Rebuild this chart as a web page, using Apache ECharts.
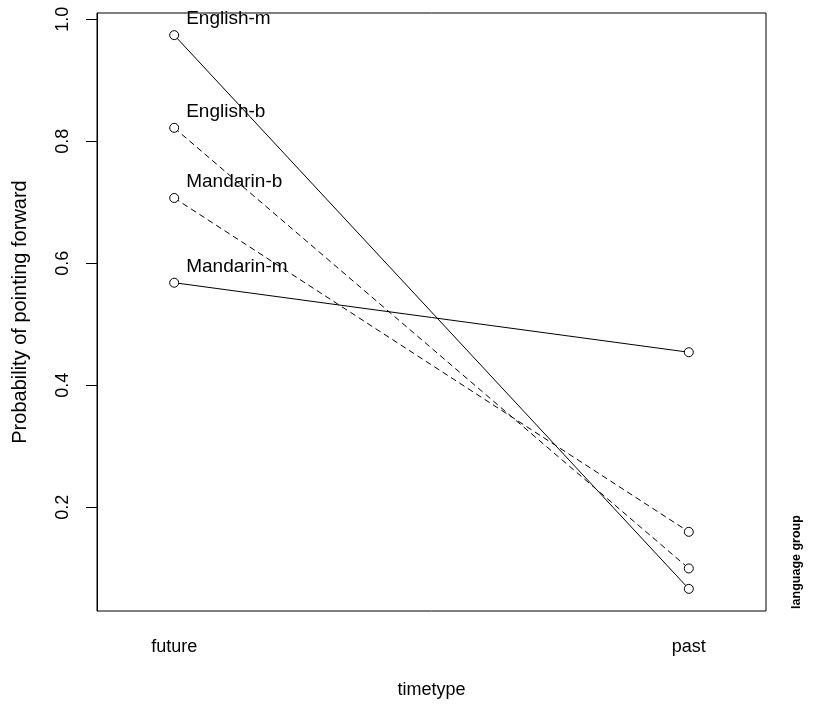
<!DOCTYPE html>
<html>
<head>
<meta charset="utf-8">
<script src="https://cdn.jsdelivr.net/npm/echarts@6/dist/echarts.min.js"></script>
<style>html,body{margin:0;padding:0;background:#fff}#c{width:814px;height:705px}</style>
</head>
<body>
<div id="c"></div>
<script>
var timeCategories = ['future', 'past'];
var groups = ['English-m', 'English-b', 'Mandarin-b', 'Mandarin-m'];
var futureValues = [0.974, 0.822, 0.707, 0.568];
var pastValues = [0.066, 0.0995, 0.1595, 0.454];
var yTickValues = [0.2, 0.4, 0.6, 0.8, 1.0];

var FONT = '"Liberation Sans", Arial, Helvetica, sans-serif';
var all = futureValues.concat(pastValues);
var lo = Math.min.apply(null, all), hi = Math.max.apply(null, all);
var ext = (hi - lo) * 0.04;

var series = groups.map(function (g, i) {
  return {
    type: 'line',
    name: g,
    data: [
      { value: [1, futureValues[i]], label: { show: true, formatter: g } },
      { value: [2, pastValues[i]] }
    ],
    symbol: 'circle',
    symbolSize: 9,
    color: '#000',
    itemStyle: { color: '#fff', borderColor: '#000', borderWidth: 1 },
    lineStyle: { color: '#000', width: 1, type: /-b$/.test(g) ? [6, 4] : 'solid' },
    label: {
      show: false,
      position: 'inside',
      align: 'left',
      verticalAlign: 'middle',
      offset: [12, -16],
      color: '#000',
      fontSize: 19,
      fontFamily: FONT
    },
    emphasis: { disabled: true }
  };
});

var chart = echarts.init(document.getElementById('c'));
chart.setOption({
  animation: false,
  backgroundColor: '#fff',
  grid: { left: 97, right: 48, top: 13, bottom: 94, show: true, borderColor: '#000', borderWidth: 1, containLabel: false },
  xAxis: {
    type: 'value',
    min: 0.85,
    max: 2.15,
    name: 'timetype',
    nameLocation: 'middle',
    nameGap: 70,
    nameTextStyle: { color: '#000', fontSize: 18, fontFamily: FONT },
    axisLine: { show: false },
    axisTick: { show: false },
    splitLine: { show: false },
    axisLabel: {
      customValues: [1, 2],
      formatter: function (v) { return timeCategories[Math.round(v) - 1] || ''; },
      margin: 27,
      color: '#000',
      fontSize: 18,
      fontFamily: FONT
    }
  },
  yAxis: {
    type: 'value',
    min: lo - ext,
    max: hi + ext,
    name: 'Probability of pointing forward',
    nameLocation: 'middle',
    nameRotate: 90,
    nameGap: 67,
    nameTextStyle: { color: '#000', fontSize: 20, fontFamily: FONT },
    axisLine: { show: true, lineStyle: { color: '#000', width: 1 } },
    axisTick: { show: true, customValues: yTickValues, length: 11, lineStyle: { color: '#000' } },
    splitLine: { show: false },
    axisLabel: {
      customValues: yTickValues,
      rotate: 90,
      formatter: function (v) { return v.toFixed(1); },
      margin: 25,
      color: '#000',
      fontSize: 18,
      fontFamily: FONT
    }
  },
  graphic: [{
    type: 'text',
    x: 797,
    y: 562,
    rotation: Math.PI / 2,
    style: {
      text: 'language group',
      fill: '#000',
      font: 'bold 12.5px ' + FONT,
      align: 'center',
      verticalAlign: 'middle'
    }
  }],
  series: series
});
</script>
</body>
</html>
